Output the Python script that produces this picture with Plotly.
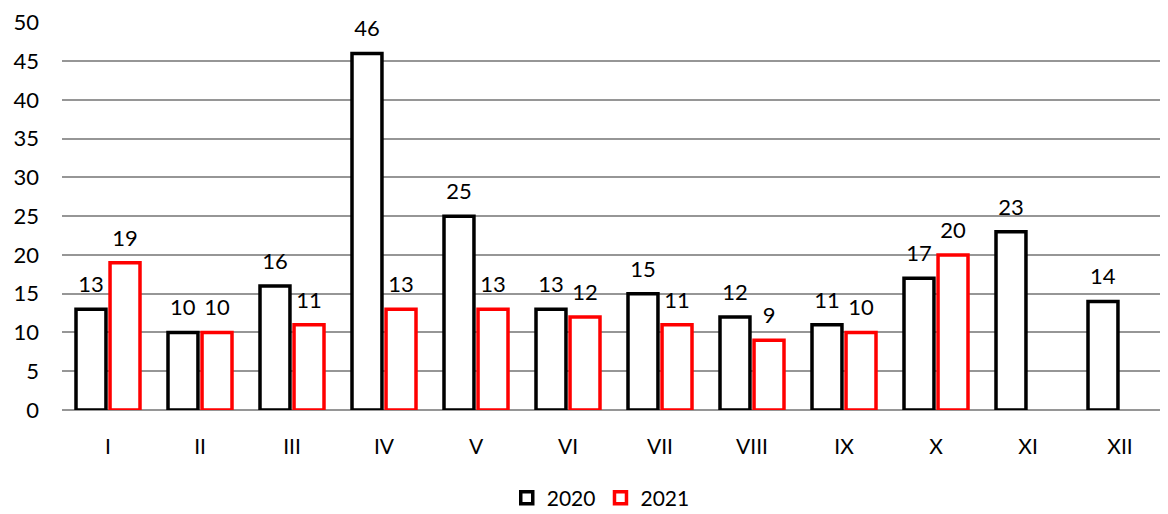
import plotly.graph_objects as go

months = ["I", "II", "III", "IV", "V", "VI", "VII", "VIII", "IX", "X", "XI", "XII"]
v2020 = [13, 10, 16, 46, 25, 13, 15, 12, 11, 17, 23, 14]
v2021 = [19, 10, 11, 13, 13, 12, 11, 9, 10, 20, None, None]
yticks = [0, 5, 10, 15, 20, 25, 30, 35, 40, 45, 50]

FONT = "Lato"
TPL = "<span style='font-size:22px'>%{y}</span><br><span style='font-size:6px'> </span>"

fig = go.Figure()
fig.add_trace(go.Bar(
    x=months, y=v2020, name="2020",
    marker=dict(color="white", line=dict(color="black", width=3.5)),
    texttemplate=TPL, textposition="outside",
    textfont=dict(family=FONT, size=10, color="black"), cliponaxis=False,
))
fig.add_trace(go.Bar(
    x=months, y=v2021, name="2021",
    marker=dict(color="white", line=dict(color="#ff0000", width=3.5)),
    texttemplate=TPL, textposition="outside",
    textfont=dict(family=FONT, size=10, color="black"), cliponaxis=False,
))

# page body has an 8px margin, so the figure is sized/offset to compensate
fig.update_layout(
    width=1160, height=506,
    margin=dict(l=54, r=2, t=14, b=104, autoexpand=False),
    paper_bgcolor="white", plot_bgcolor="white",
    barmode="group", bargap=0.26, bargroupgap=0.12,
    font=dict(family=FONT, size=21, color="black"),
    showlegend=True,
    legend=dict(orientation="h", x=0.488, xanchor="center", y=-0.227, yanchor="middle",
                font=dict(family=FONT, size=21, color="black"), itemwidth=30),
    xaxis=dict(showgrid=False, showline=False, ticks="", ticklabelstandoff=22,
               automargin=False, tickfont=dict(family=FONT, size=21)),
    yaxis=dict(range=[0, 50.05], tickvals=yticks, showgrid=True, gridcolor="#969696",
               gridwidth=1.5, zeroline=True, zerolinecolor="#969696", zerolinewidth=1.5,
               showline=False, ticks="", ticklabelstandoff=22, automargin=False,
               tickfont=dict(family=FONT, size=22)),
)

fig.write_html("out.html")
